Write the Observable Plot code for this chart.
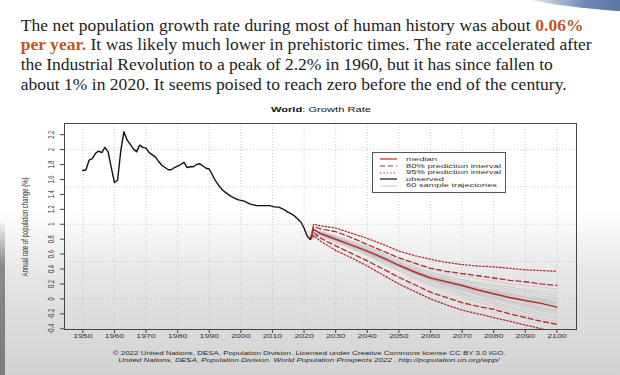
<!DOCTYPE html>
<html>
<head>
<meta charset="utf-8">
<script src="https://cdn.jsdelivr.net/npm/d3@7"></script>
<script src="https://cdn.jsdelivr.net/npm/@observablehq/plot@0.6"></script>
<style>
  html, body { margin: 0; padding: 0; }
  body {
    width: 620px; height: 375px; position: relative; overflow: hidden;
    background: linear-gradient(to bottom, #ffffff 0%, #ffffff 56%, #e4e4e4 75%, #d2d2d2 100%);
  }
  #para {
    position: absolute; left: 20.7px; top: 15.5px;
    font-family: "Liberation Serif", "DejaVu Serif", serif;
    font-size: 17.5px; line-height: 19.7px; color: #1c1c1c;
  }
  #para .ln { display: block; white-space: nowrap; }
  #para .ln span.fit { display: inline-block; white-space: nowrap; }
  .hl { color: #c0561c; font-weight: bold; }
  #swoosh {
    position: absolute; right: -10px; top: -4px; width: 110px; height: 16px;
    background: linear-gradient(to right, rgba(95,125,170,0) 0%, rgba(95,125,170,0.9) 60%, #55739f 100%);
    transform: rotate(4deg); transform-origin: right top;
    border-bottom-left-radius: 100% 60%;
  }
  #leftedge {
    position: absolute; left: 0; top: 220px; width: 5px; height: 155px;
    background: linear-gradient(to bottom, rgba(120,120,120,0), #8a8a8a 30%, #7a7a7a);
  }
  #chart { position: absolute; left: 0; top: 0; }
  .stretch { position: absolute; white-space: nowrap; font-family: "Liberation Sans", Arial, sans-serif; }
  #ctitle { top: 105px; font-size: 8px; color: #111; }
  #ytitle {
    left: 25px; top: 227px; font-size: 6px; color: #2a2a2a;
    transform: translate(-50%, -50%) rotate(-90deg) scaleY(1.4);
  }
  #legend {
    position: absolute; left: 372px; top: 152px; width: 134px; height: 41px;
    border: 1px solid #555; background: #fff; box-sizing: border-box;
    font-family: "Liberation Sans", Arial, sans-serif; font-size: 5.7px; color: #333;
  }
  #legend .sw { position: absolute; left: 7px; }
  #legend .lab { position: absolute; left: 33px; white-space: nowrap; line-height: 6.5px; transform-origin: left center; }
  .credit { font-size: 5.4px; color: #2a2a2a; }
</style>
</head>
<body>
<div id="leftedge"></div>
<div id="swoosh"></div>
<div id="para"></div>
<div id="chart"></div>
<div id="ctitle" class="stretch"><b>World</b>: Growth Rate</div>
<div id="ytitle" class="stretch">Annual rate of population change (%)</div>
<div id="legend"></div>
<div id="cr1" class="stretch credit" style="top:350px"></div>
<div id="cr2" class="stretch credit" style="top:357px; font-style:italic"></div>
<script>
// ---------- data ----------
const paragraphLines = [
  ["The net population growth rate during most of human history was about ", "0.06%"],
  ["per year.", " It was likely much lower in prehistoric times. The rate accelerated after"],
  ["", "the Industrial Revolution to a peak of 2.2% in 1960, but it has since fallen to"],
  ["", "about 1% in 2020. It seems poised to reach zero before the end of the century."]
];
const creditLines = [
  "© 2022 United Nations, DESA, Population Division. Licensed under Creative Commons license CC BY 3.0 IGO.",
  "United Nations, DESA, Population Division. World Population Prospects 2022 . http://population.un.org/wpp/"
];
const legendLabels = ["median", "80% prediction interval", "95% prediction interval", "observed", "60 sample trajectories"];

const xTicks = [1950, 1960, 1970, 1980, 1990, 2000, 2010, 2020, 2030, 2040, 2050, 2060, 2070, 2080, 2090, 2100];
const yTicks = [-0.4, -0.2, 0, 0.2, 0.4, 0.6, 0.8, 1, 1.2, 1.4, 1.6, 1.8, 2, 2.2];
const yGrid = [0, 0.5, 1, 1.5, 2];

// observed annual rate, 1950..2022
const obsStart = 1950;
const observed = [
  1.72, 1.73, 1.86, 1.88, 1.95, 1.98, 1.96, 2.03, 1.97, 1.76,
  1.56, 1.59, 1.98, 2.24, 2.13, 2.07, 2.01, 1.97, 2.06, 2.03,
  2.02, 1.96, 1.93, 1.90, 1.84, 1.79, 1.76, 1.73, 1.73, 1.76,
  1.78, 1.80, 1.83, 1.76, 1.77, 1.77, 1.80, 1.81, 1.78, 1.75,
  1.74, 1.66, 1.58, 1.52, 1.47, 1.43, 1.40, 1.37, 1.35, 1.33,
  1.32, 1.31, 1.29, 1.27, 1.26, 1.25, 1.25, 1.25, 1.25, 1.25,
  1.24, 1.23, 1.23, 1.21, 1.19, 1.16, 1.14, 1.11, 1.07, 1.03,
  0.95, 0.84, 0.80
];

// projections
const projYears = [2022, 2023, 2025, 2030, 2035, 2040, 2045, 2050, 2055, 2060, 2065, 2070, 2075, 2080, 2085, 2090, 2095, 2100];
const median = [0.80, 0.93, 0.88, 0.80, 0.72, 0.64, 0.55, 0.45, 0.36, 0.28, 0.23, 0.18, 0.12, 0.07, 0.02, -0.02, -0.06, -0.11];
const pi80hi = [0.80, 0.97, 0.94, 0.90, 0.82, 0.73, 0.64, 0.55, 0.48, 0.41, 0.37, 0.34, 0.31, 0.28, 0.25, 0.23, 0.20, 0.18];
const pi80lo = [0.80, 0.89, 0.82, 0.71, 0.61, 0.51, 0.40, 0.29, 0.19, 0.09, 0.02, -0.05, -0.10, -0.14, -0.20, -0.25, -0.30, -0.34];
const pi95hi = [0.80, 1.00, 0.98, 0.95, 0.88, 0.81, 0.73, 0.64, 0.58, 0.53, 0.49, 0.46, 0.44, 0.43, 0.41, 0.39, 0.38, 0.37];
const pi95lo = [0.80, 0.85, 0.78, 0.65, 0.55, 0.44, 0.32, 0.20, 0.10, 0.00, -0.08, -0.15, -0.20, -0.25, -0.30, -0.35, -0.40, -0.45];

// sample trajectories (subset), values at these years
const trajYears = [2022, 2025, 2030, 2035, 2040, 2045, 2050, 2055, 2060, 2065, 2070, 2075, 2080, 2085, 2090, 2095, 2100];
const trajectories = [
  [0.80, 0.90, 0.84, 0.76, 0.70, 0.60, 0.50, 0.42, 0.35, 0.30, 0.26, 0.22, 0.18, 0.16, 0.12, 0.10, 0.08],
  [0.80, 0.86, 0.77, 0.70, 0.60, 0.50, 0.40, 0.30, 0.22, 0.15, 0.08, 0.02, -0.04, -0.10, -0.15, -0.20, -0.24],
  [0.80, 0.89, 0.82, 0.73, 0.66, 0.58, 0.47, 0.38, 0.31, 0.27, 0.20, 0.16, 0.10, 0.06, 0.03, 0.00, -0.03],
  [0.80, 0.87, 0.79, 0.71, 0.62, 0.52, 0.44, 0.35, 0.25, 0.20, 0.15, 0.08, 0.03, -0.03, -0.08, -0.12, -0.17],
  [0.80, 0.91, 0.85, 0.78, 0.72, 0.63, 0.55, 0.47, 0.40, 0.35, 0.31, 0.27, 0.24, 0.20, 0.18, 0.16, 0.13],
  [0.80, 0.85, 0.75, 0.67, 0.58, 0.47, 0.37, 0.27, 0.18, 0.10, 0.03, -0.04, -0.10, -0.16, -0.22, -0.27, -0.30],
  [0.80, 0.88, 0.81, 0.74, 0.65, 0.56, 0.46, 0.37, 0.30, 0.24, 0.17, 0.13, 0.09, 0.03, -0.01, -0.04, -0.07],
  [0.80, 0.88, 0.80, 0.71, 0.63, 0.54, 0.45, 0.34, 0.26, 0.19, 0.14, 0.09, 0.05, 0.01, -0.05, -0.09, -0.13],
  [0.80, 0.90, 0.83, 0.75, 0.68, 0.59, 0.49, 0.41, 0.33, 0.28, 0.23, 0.19, 0.14, 0.11, 0.08, 0.04, 0.02],
  [0.80, 0.87, 0.78, 0.69, 0.61, 0.51, 0.42, 0.33, 0.24, 0.17, 0.11, 0.05, -0.01, -0.06, -0.11, -0.16, -0.20],
  [0.80, 0.89, 0.81, 0.72, 0.64, 0.56, 0.46, 0.38, 0.29, 0.22, 0.16, 0.11, 0.04, 0.00, -0.04, -0.07, -0.10],
  [0.80, 0.88, 0.82, 0.73, 0.67, 0.57, 0.48, 0.39, 0.32, 0.25, 0.21, 0.15, 0.12, 0.08, 0.05, 0.01, 0.00],
  [0.80, 0.86, 0.78, 0.70, 0.61, 0.53, 0.43, 0.33, 0.27, 0.20, 0.13, 0.07, 0.02, -0.04, -0.09, -0.14, -0.18],
  [0.80, 0.89, 0.83, 0.76, 0.69, 0.61, 0.52, 0.44, 0.36, 0.31, 0.25, 0.20, 0.17, 0.13, 0.11, 0.07, 0.05],
  [0.80, 0.87, 0.79, 0.72, 0.63, 0.53, 0.44, 0.36, 0.27, 0.21, 0.16, 0.10, 0.06, 0.02, -0.02, -0.05, -0.08],
  [0.80, 0.88, 0.80, 0.71, 0.62, 0.54, 0.44, 0.35, 0.28, 0.22, 0.17, 0.13, 0.08, 0.04, 0.00, -0.03, -0.06],
  [0.80, 0.90, 0.83, 0.74, 0.66, 0.57, 0.48, 0.40, 0.31, 0.26, 0.20, 0.14, 0.10, 0.07, 0.02, -0.02, -0.04],
  [0.80, 0.86, 0.76, 0.68, 0.59, 0.49, 0.39, 0.29, 0.20, 0.13, 0.06, 0.00, -0.07, -0.12, -0.18, -0.23, -0.27],
  [0.80, 0.89, 0.82, 0.74, 0.65, 0.55, 0.46, 0.37, 0.30, 0.24, 0.19, 0.14, 0.11, 0.05, 0.02, -0.01, -0.05],
  [0.80, 0.87, 0.79, 0.70, 0.62, 0.52, 0.43, 0.34, 0.26, 0.18, 0.12, 0.06, 0.01, -0.03, -0.07, -0.12, -0.15]
];

// ---------- styling ----------
const RED = "#b52a2c";
const series = [
  {name: "median", dash: null, color: RED},
  {name: "80% prediction interval", dash: "5,3", color: RED},
  {name: "95% prediction interval", dash: "1.4,2", color: RED},
  {name: "observed", dash: null, color: "#111"},
  {name: "60 sample trajectories", dash: null, color: "#bdbdbd"}
];

// ---------- tables ----------
const obsData = observed.map((v, i) => ({year: obsStart + i, v}));
const toRows = arr => arr.map((v, i) => ({year: projYears[i], v}));
const trajData = trajectories.flatMap((t, k) => t.map((v, i) => ({id: k, year: trajYears[i], v})));

// ---------- paragraph ----------
const para = document.getElementById("para");
paragraphLines.forEach((ln, i) => {
  const d = document.createElement("div");
  d.className = "ln";
  const s = document.createElement("span");
  s.className = "fit";
  if (i === 0) { s.append(ln[0]); const b = document.createElement("span"); b.className = "hl"; b.textContent = ln[1]; s.append(b); }
  else if (i === 1) { const b = document.createElement("span"); b.className = "hl"; b.textContent = ln[0]; s.append(b); s.append(ln[1]); }
  else s.append(ln[1]);
  d.append(s);
  para.append(d);
});
const paraTargets = [563, 571, 532, 546];
para.querySelectorAll("span.fit").forEach((s, i) => {
  const w = s.getBoundingClientRect().width;
  s.style.letterSpacing = ((paraTargets[i] - w) / s.textContent.length) + "px";
});

// helper: stretch an HTML element horizontally to a target width centred at cx
function fitCentered(el, cx, target) {
  const w = el.getBoundingClientRect().width;
  el.style.left = (cx - w / 2) + "px";
  el.style.transformOrigin = "center center";
  el.style.transform = `scaleX(${target / w})`;
}

// ---------- title & credits ----------
fitCentered(document.getElementById("ctitle"), 321, 100);
document.getElementById("cr1").textContent = creditLines[0];
document.getElementById("cr2").textContent = creditLines[1];
fitCentered(document.getElementById("cr1"), 309.5, 393);
fitCentered(document.getElementById("cr2"), 308.5, 381);

// ---------- legend ----------
const leg = document.getElementById("legend");
const legRowY = [6.3, 12.9, 19.5, 26.1, 32.7];
const legTargets = [31, 95, 95, 38, 91];
series.forEach((s, i) => {
  const sw = document.createElementNS("http://www.w3.org/2000/svg", "svg");
  sw.setAttribute("class", "sw");
  sw.setAttribute("width", 17); sw.setAttribute("height", 4);
  sw.style.top = (legRowY[i] - 2) + "px";
  sw.innerHTML = `<line x1="0" x2="17" y1="2" y2="2" stroke="${s.color}" stroke-width="${i === 4 ? 0.8 : 1.2}" ${s.dash ? `stroke-dasharray="${s.dash}"` : ""}/>`;
  leg.append(sw);
  const lab = document.createElement("span");
  lab.className = "lab";
  lab.textContent = legendLabels[i];
  lab.style.top = (legRowY[i] - 3.25) + "px";
  leg.append(lab);
  const w = lab.getBoundingClientRect().width;
  lab.style.transform = `scaleX(${legTargets[i] / w})`;
});

// ---------- chart ----------
const chart = Plot.plot({
  width: 620, height: 375,
  marginLeft: 64, marginRight: 44, marginTop: 123, marginBottom: 46,
  style: {background: "transparent", fontFamily: "Liberation Sans, Arial, sans-serif", fontSize: "6px", color: "#333", overflow: "visible"},
  x: {domain: [1944.2, 2106.2]},
  y: {domain: [-0.41, 2.35]},
  marks: [
    Plot.ruleX(xTicks, {stroke: "#b8b8b8", strokeWidth: 0.7, strokeDasharray: "1,2"}),
    Plot.ruleY(yGrid, {stroke: "#b8b8b8", strokeWidth: 0.7, strokeDasharray: "1,2"}),
    Plot.line(trajData, {x: "year", y: "v", z: "id", stroke: "#bdbdbd", strokeWidth: 0.6, strokeOpacity: 0.9, clip: true}),
    Plot.line(toRows(pi95hi), {x: "year", y: "v", stroke: RED, strokeWidth: 1.3, strokeDasharray: "1.4,2", clip: true}),
    Plot.line(toRows(pi95lo), {x: "year", y: "v", stroke: RED, strokeWidth: 1.3, strokeDasharray: "1.4,2", clip: true}),
    Plot.line(toRows(pi80hi), {x: "year", y: "v", stroke: RED, strokeWidth: 1.3, strokeDasharray: "5,3", clip: true}),
    Plot.line(toRows(pi80lo), {x: "year", y: "v", stroke: RED, strokeWidth: 1.3, strokeDasharray: "5,3", clip: true}),
    Plot.line(toRows(median), {x: "year", y: "v", stroke: RED, strokeWidth: 1.5, clip: true}),
    Plot.line(obsData, {x: "year", y: "v", stroke: "#111", strokeWidth: 1.4}),
    Plot.frame({stroke: "#444", strokeWidth: 1}),
    Plot.axisX({ticks: xTicks, tickSize: 4, tickPadding: 4, tickFormat: d => String(d), label: null, fontSize: 6, stroke: "#444"}),
    Plot.axisY({ticks: yTicks, tickSize: 4, tickPadding: 7, tickRotate: -90, tickFormat: d => String(Math.round(d * 10) / 10), label: null, fontSize: 5.8, stroke: "#444"})
  ]
});
document.getElementById("chart").append(chart);

// the original R figure is stretched horizontally: reproduce on tick labels
function stretchText(sel, sx, sy) {
  sel.each(function() {
    const t = this.getAttribute("transform") || "";
    const x = +this.getAttribute("x") || 0, y = +this.getAttribute("y") || 0;
    this.removeAttribute("x"); this.removeAttribute("y");
    this.setAttribute("transform", `${t} translate(${x},${y}) scale(${sx},${sy})`);
  });
}
stretchText(d3.select(chart).selectAll('g[aria-label="x-axis tick label"] text'), 1.45, 1);
stretchText(d3.select(chart).selectAll('g[aria-label="y-axis tick label"] text'), 1, 1.45);
</script>
</body>
</html>
